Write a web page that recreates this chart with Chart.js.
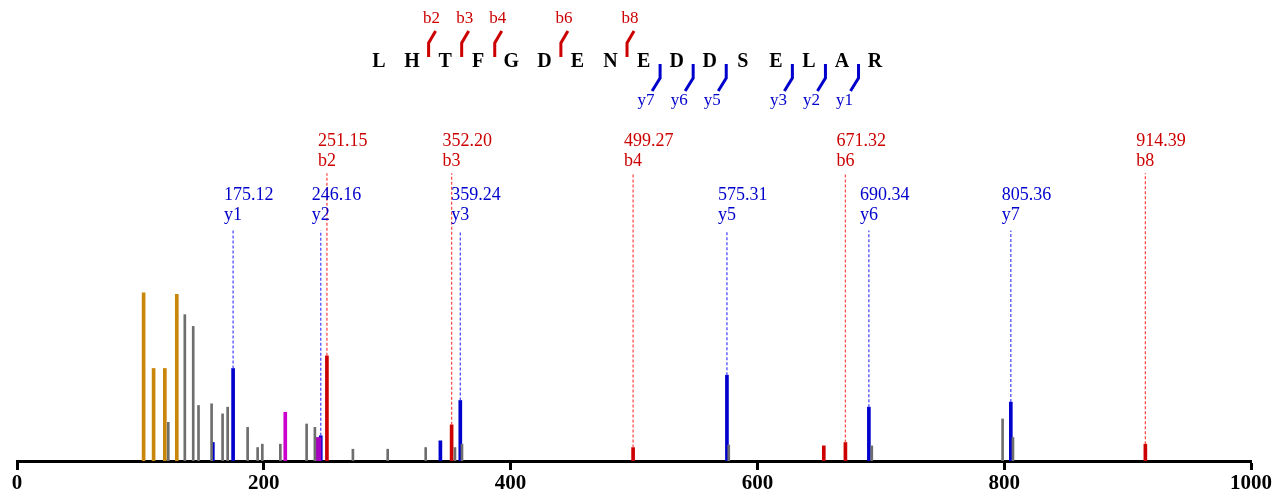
<!DOCTYPE html>
<html>
<head>
<meta charset="utf-8">
<script src="https://cdn.jsdelivr.net/npm/chart.js@4/dist/chart.umd.min.js"></script>
<style>
  html, body { margin: 0; padding: 0; background: #fff; }
  #wrap { width: 1283px; height: 497px; position: relative; }
</style>
</head>
<body>
<div id="wrap"><canvas id="myChart"></canvas></div>
<script>
// peptide + fragment ions
const sequence = 'LHTFGDENEDDSELAR'.split('');

const bNames = ['b2', 'b3', 'b4', 'b6', 'b8'];
const bMz = [251.15, 352.20, 499.27, 671.32, 914.39];
const bInt = [62.5, 21.5, 8, 11, 10];

const yNames = ['y1', 'y2', 'y3', 'y5', 'y6', 'y7'];
const yMz = [175.12, 246.16, 359.24, 575.31, 690.34, 805.36];
const yInt = [55, 15, 36, 51, 32, 35];

// unlabelled peaks
const blueMz = [158.7, 343.1];
const blueInt = [11, 12];
const redMz = [653.8];
const redInt = [9];
const orangeMz = [102.6, 110.7, 119.8, 129.5];
const orangeInt = [100, 55, 55, 99];
const magentaMz = [217.4];
const magentaInt = [29];
const magenta2Mz = [244.3];
const magenta2Int = [14];
const grayMz = [122.6, 136.0, 142.8, 147.1, 157.7, 166.6, 170.7, 186.9, 195.0, 198.8, 213.4,
  234.7, 241.4, 272.2, 300.4, 331.2, 354.9, 360.6, 576.8, 692.7, 798.7, 807.1];
const grayInt = [23, 87, 80, 33, 34, 28, 32, 20, 8, 10, 10,
  22, 20, 7, 7, 8, 8, 10, 9.5, 9, 25, 14];

const xTicks = [0, 200, 400, 600, 800, 1000];
const bLevel = 171;
const yLevel = 137;

const RED = '#cc0000';
const BLUE = '#0000cc';

function pts(mz, ints) {
  return mz.map((m, i) => ({ x: m, y: ints[i] }));
}

function dashes(mz, ints, level) {
  const out = [];
  mz.forEach((m, i) => {
    out.push({ x: m, y: ints[i] });
    out.push({ x: m, y: level });
    out.push({ x: m, y: null });
  });
  return out;
}

function barSet(data, color, w) {
  return {
    type: 'bar',
    data: data,
    backgroundColor: color,
    borderWidth: 0,
    barThickness: w,
    grouped: false
  };
}

function dashSet(data, color) {
  return {
    type: 'line',
    data: data,
    borderColor: color,
    borderWidth: 1.3,
    borderDash: [3, 2],
    pointRadius: 0,
    spanGaps: false,
    fill: false
  };
}

// text labels + sequence map drawn on top
const annotate = {
  id: 'annotate',
  afterDatasetsDraw(chart) {
    const ctx = chart.ctx;
    const xs = chart.scales.x;
    const ys = chart.scales.y;
    ctx.save();
    ctx.font = '18px "Liberation Serif", serif';
    ctx.textAlign = 'left';
    ctx.textBaseline = 'middle';

    bMz.forEach((m, i) => {
      const px = xs.getPixelForValue(m);
      const top = ys.getPixelForValue(bLevel);
      ctx.fillStyle = RED;
      ctx.fillText(m.toFixed(2), px - 9, top - 32);
      ctx.fillText(bNames[i], px - 9, top - 12);
    });
    yMz.forEach((m, i) => {
      const px = xs.getPixelForValue(m);
      const top = ys.getPixelForValue(yLevel);
      ctx.fillStyle = BLUE;
      ctx.fillText(m.toFixed(2), px - 9, top - 35);
      ctx.fillText(yNames[i], px - 9, top - 15);
    });

    // sequence
    const x0 = 379, step = 33.07, midY = 62;
    ctx.font = 'bold 20px "Liberation Serif", serif';
    ctx.textAlign = 'center';
    ctx.fillStyle = '#000';
    sequence.forEach((aa, i) => {
      ctx.fillText(aa, x0 + i * step, midY);
    });

    ctx.lineWidth = 3;
    ctx.font = '17px "Liberation Serif", serif';
    bNames.forEach(n => {
      const k = parseInt(n.slice(1));
      const x = x0 + (k - 1) * step + step / 2;
      ctx.strokeStyle = RED;
      ctx.beginPath();
      ctx.moveTo(x, 57);
      ctx.lineTo(x, 43);
      ctx.lineTo(x + 7, 31);
      ctx.stroke();
      ctx.fillStyle = RED;
      ctx.fillText(n, x + 3, 19);
    });
    yNames.forEach(n => {
      const k = parseInt(n.slice(1));
      const x = x0 + (16 - k) * step - step / 2;
      ctx.strokeStyle = BLUE;
      ctx.beginPath();
      ctx.moveTo(x, 64);
      ctx.lineTo(x, 78);
      ctx.lineTo(x - 8, 91);
      ctx.stroke();
      ctx.fillStyle = BLUE;
      ctx.fillText(n, x - 14, 101);
    });
    ctx.restore();
  }
};

const ctx = document.getElementById('myChart').getContext('2d');
const myChart = new Chart(ctx, {
  data: {
    datasets: [
      dashSet(dashes(bMz, bInt, bLevel), '#ff4d4d'),
      dashSet(dashes(yMz, yInt, yLevel), '#4d4dff'),
      barSet(pts(grayMz, grayInt), '#6e6e6e', 2),
      barSet(pts(orangeMz, orangeInt), '#c8860a', 3),
      barSet(pts(magentaMz, magentaInt), '#cc00cc', 3),
      barSet(pts(magenta2Mz, magenta2Int), '#a800c0', 5),
      barSet(pts(blueMz, blueInt), BLUE, 3),
      barSet(pts(yMz, yInt), BLUE, 3),
      barSet(pts(redMz, redInt), RED, 3),
      barSet(pts(bMz, bInt), RED, 3)
    ]
  },
  options: {
    responsive: true,
    maintainAspectRatio: false,
    animation: false,
    layout: { padding: { left: 17, right: 32, top: 0, bottom: 0 } },
    plugins: {
      legend: { display: false },
      tooltip: { enabled: false }
    },
    scales: {
      x: {
        type: 'linear',
        min: 0,
        max: 1000,
        offset: false,
        afterBuildTicks: s => { s.ticks = xTicks.map(v => ({ value: v })); },
        afterFit: s => { s.height = 36; },
        border: { display: true, color: '#000', width: 3 },
        grid: {
          display: true,
          offset: false,
          drawOnChartArea: false,
          drawTicks: true,
          tickLength: 9,
          tickWidth: 3,
          tickColor: '#000'
        },
        ticks: {
          color: '#000',
          padding: 1,
          maxRotation: 0,
          callback: v => String(v),
          font: { family: '"Liberation Serif", serif', size: 21, weight: 'bold' }
        }
      },
      y: {
        display: false,
        min: 0,
        max: 274
      }
    }
  },
  plugins: [annotate]
});
</script>
</body>
</html>
